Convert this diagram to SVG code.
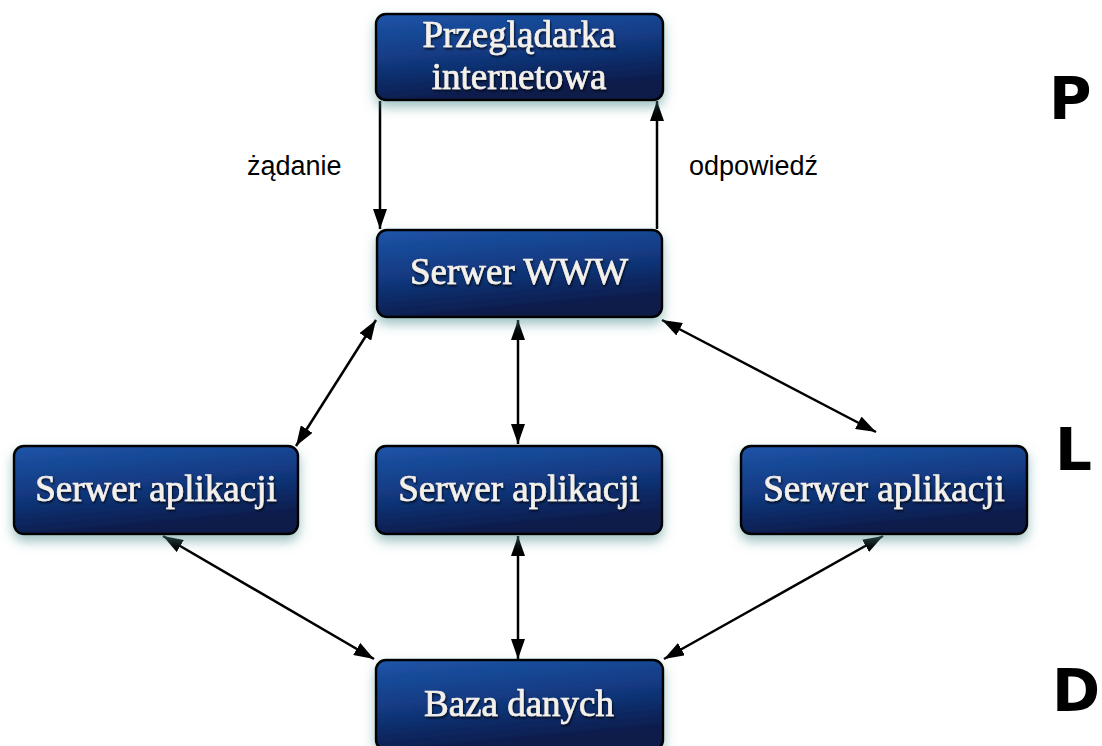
<svg xmlns="http://www.w3.org/2000/svg" width="1102" height="746" viewBox="0 0 1102 746">
<defs>
<linearGradient id="g" x1="0" y1="0" x2="0.3" y2="1">
<stop offset="0" stop-color="#1d55a8"/>
<stop offset="0.5" stop-color="#123a82"/>
<stop offset="1" stop-color="#0b1a48"/>
</linearGradient>
<filter id="sh" x="-20%" y="-30%" width="140%" height="170%">
<feGaussianBlur in="SourceAlpha" stdDeviation="6"/>
<feOffset dx="0" dy="6" result="b"/>
<feFlood flood-color="#4f8f8f" flood-opacity="0.55"/>
<feComposite in2="b" operator="in"/>
<feMerge><feMergeNode/><feMergeNode in="SourceGraphic"/></feMerge>
</filter>
<filter id="ts" x="-10%" y="-30%" width="120%" height="160%">
<feGaussianBlur in="SourceAlpha" stdDeviation="1"/>
<feOffset dx="1" dy="1.5" result="b"/>
<feFlood flood-color="#000" flood-opacity="0.7"/>
<feComposite in2="b" operator="in"/>
<feMerge><feMergeNode/><feMergeNode in="SourceGraphic"/></feMerge>
</filter>
<marker id="a" viewBox="0 0 20 14" refX="20" refY="7" markerWidth="20" markerHeight="14" markerUnits="userSpaceOnUse" orient="auto-start-reverse">
<path d="M0,0 L20,7 L0,14 z" fill="#000"/>
</marker>
</defs>
<style>
.box{fill:url(#g);stroke:#000;stroke-width:2.5;filter:url(#sh)}
.t{font-family:"Liberation Serif",serif;font-size:37px;fill:#f4f0ea;stroke:#f4f0ea;stroke-width:0.7;text-anchor:middle;filter:url(#ts)}
.c{stroke:#000;stroke-width:2.5;fill:none}
.lbl{font-family:"Liberation Sans",Arial,sans-serif;font-size:27px;fill:#000}
.big{font-family:"DejaVu Sans",sans-serif;font-size:58px;font-weight:bold;fill:#000}
</style>
<rect width="1102" height="746" fill="#fff"/>
<g id="connectors">
<line class="c" x1="380" y1="101" x2="380" y2="229" marker-end="url(#a)"/>
<line class="c" x1="657" y1="229" x2="657" y2="101" marker-end="url(#a)"/>
<line class="c" x1="376" y1="320" x2="296" y2="446" marker-start="url(#a)" marker-end="url(#a)"/>
<line class="c" x1="518" y1="320" x2="518" y2="444" marker-start="url(#a)" marker-end="url(#a)"/>
<line class="c" x1="662" y1="320" x2="876" y2="432" marker-start="url(#a)" marker-end="url(#a)"/>
<line class="c" x1="163" y1="536" x2="374" y2="659" marker-start="url(#a)" marker-end="url(#a)"/>
<line class="c" x1="518" y1="536" x2="518" y2="659" marker-start="url(#a)" marker-end="url(#a)"/>
<line class="c" x1="883" y1="536" x2="664" y2="659" marker-start="url(#a)" marker-end="url(#a)"/>
<text class="lbl" x="247" y="175">żądanie</text>
<text class="lbl" x="689" y="175">odpowiedź</text>
</g>
<g id="przegladarka">
<rect class="box" x="376" y="14" width="287" height="86" rx="10"/>
<text class="t" x="519" y="47">Przeglądarka</text>
<text class="t" x="519" y="89">internetowa</text>
</g>
<g id="serwer-www">
<rect class="box" x="377" y="230" width="285" height="87" rx="10"/>
<text class="t" x="519" y="284">Serwer WWW</text>
</g>
<g id="app-left">
<rect class="box" x="14" y="446" width="284" height="88" rx="10"/>
<text class="t" x="156" y="501">Serwer aplikacji</text>
</g>
<g id="app-mid">
<rect class="box" x="376" y="446" width="286" height="88" rx="10"/>
<text class="t" x="519" y="501">Serwer aplikacji</text>
</g>
<g id="app-right">
<rect class="box" x="741" y="446" width="286" height="88" rx="10"/>
<text class="t" x="884" y="501">Serwer aplikacji</text>
</g>
<g id="baza">
<rect class="box" x="376" y="660" width="287" height="90" rx="10"/>
<text class="t" x="519" y="716">Baza danych</text>
</g>
<g id="layers">
<text class="big" x="1049" y="119">P</text>
<text class="big" x="1055" y="470">L</text>
<text class="big" x="1052" y="711">D</text>
</g>
</svg>
